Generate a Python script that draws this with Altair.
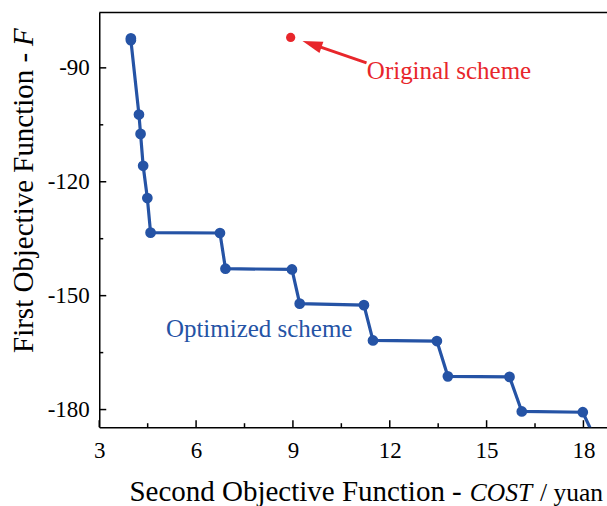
import altair as alt
import pandas as pd

# ---- data ----
cost = [3.98, 3.98, 4.23, 4.28, 4.36, 4.49, 4.59, 6.74, 6.91, 8.97, 9.21,
        11.20, 11.48, 13.46, 13.80, 15.71, 16.09, 17.98, 18.49]
f_val = [-82.2, -82.7, -102.3, -107.4, -115.8, -124.3, -133.4, -133.5, -142.9,
         -143.1, -152.1, -152.5, -161.8, -161.95, -171.25, -171.4, -180.5,
         -180.7, -190.0]
orig_cost = [8.93]
orig_f = [-82.0]

x_major = [3, 6, 9, 12, 15, 18]
x_minor = [4.5, 7.5, 10.5, 13.5, 16.5]
y_major = [-90, -120, -150, -180]
y_minor = [-105, -135, -165]

# annotation anchors (data coords)
opt_label = ["Optimized scheme"]
opt_lx = [5.065]
opt_ly = [-160.8]
orig_label = ["Original scheme"]
orig_lx = [11.29]
orig_ly = [-93.0]
arrow_tail_x = [11.28]
arrow_tail_y = [-88.7]
arrow_head_x = [9.59]
arrow_head_y = [-83.77]

BLUE = "#2553a5"
RED = "#e8262b"
FONT = "Liberation Serif"

W, H = 508, 415
xs = alt.Scale(domain=[3, 18.73], nice=False, zero=False)
ys = alt.Scale(domain=[-184.65, -75.4], nice=False, zero=False)

df = pd.DataFrame({"cost": cost, "F": f_val, "i": list(range(len(cost)))})
df_orig = pd.DataFrame({"cost": orig_cost, "F": orig_f})

x_axis = alt.Axis(values=x_major, labelPadding=12, title=None,
                  labelExpr="'' + datum.value")
y_axis = alt.Axis(values=y_major, labelPadding=10, title=None,
                  labelExpr="'' + datum.value")


def X(f, **kw):
    return alt.X(f, scale=xs, title=None, **kw)


def Y(f, **kw):
    return alt.Y(f, scale=ys, title=None, **kw)


line = alt.Chart(df).mark_line(color=BLUE, strokeWidth=3.2, clip=True).encode(
    x=X("cost:Q", axis=x_axis),
    y=Y("F:Q", axis=y_axis),
    order="i:Q",
)
pts = alt.Chart(df).mark_circle(color=BLUE, size=115, opacity=1, clip=True).encode(
    x=X("cost:Q"), y=Y("F:Q"))
orig = alt.Chart(df_orig).mark_circle(color=RED, size=85, opacity=1).encode(
    x=X("cost:Q"), y=Y("F:Q"))

# inward ticks
xt_major = alt.Chart(pd.DataFrame({"v": x_major})).mark_rule(color="black", strokeWidth=1.5).encode(
    x=X("v:Q"), y=alt.value(H), y2=alt.value(H - 7))
xt_minor = alt.Chart(pd.DataFrame({"v": x_minor})).mark_rule(color="black", strokeWidth=1.5).encode(
    x=X("v:Q"), y=alt.value(H), y2=alt.value(H - 4))
yt_major = alt.Chart(pd.DataFrame({"v": y_major})).mark_rule(color="black", strokeWidth=1.5).encode(
    y=Y("v:Q"), x=alt.value(0), x2=alt.value(7))
yt_minor = alt.Chart(pd.DataFrame({"v": y_minor})).mark_rule(color="black", strokeWidth=1.5).encode(
    y=Y("v:Q"), x=alt.value(0), x2=alt.value(4))
top_frame = alt.Chart(pd.DataFrame({"a": [0]})).mark_rule(color="black", strokeWidth=1.5).encode(
    x=alt.value(0), x2=alt.value(W + 2), y=alt.value(0))

# annotations
opt_txt = alt.Chart(pd.DataFrame({"t": opt_label, "x": opt_lx, "y": opt_ly})).mark_text(
    font=FONT, fontSize=25, color=BLUE, align="left", baseline="alphabetic").encode(
    x=X("x:Q"), y=Y("y:Q"), text="t:N")
orig_txt = alt.Chart(pd.DataFrame({"t": orig_label, "x": orig_lx, "y": orig_ly})).mark_text(
    font=FONT, fontSize=25, color=RED, align="left", baseline="alphabetic").encode(
    x=X("x:Q"), y=Y("y:Q"), text="t:N")
arrow_line = alt.Chart(pd.DataFrame({"x": arrow_tail_x, "y": arrow_tail_y,
                                     "x2": arrow_head_x, "y2": arrow_head_y})).mark_rule(
    color=RED, strokeWidth=3).encode(
    x=X("x:Q"), y=Y("y:Q"), x2="x2:Q", y2="y2:Q")
arrow_head = alt.Chart(pd.DataFrame({"x": arrow_head_x, "y": arrow_head_y})).mark_point(
    shape="M0,-1L0.6,1L-0.6,1Z", filled=True, color=RED, opacity=1, size=400, angle=289).encode(
    x=X("x:Q"), y=Y("y:Q"))


# axis titles (with italic parts)
def txt(s, x, y, size=29, **kw):
    return alt.Chart(pd.DataFrame({"t": [s]})).mark_text(
        font=FONT, fontSize=size, color="black", baseline="alphabetic", **kw).encode(
        x=alt.value(x), y=alt.value(y), text="t:N")


xt1 = txt("Second Objective Function -", 362.7, 489, align="right")
xt2 = txt("COST", 370.7, 489, size=25.5, align="left", fontStyle="italic")
xt3 = txt("/ yuan", 441, 489, size=25.5, align="left")
yt1 = txt("First Objective Function -", -66.3, 340.7, align="left", angle=270)
yt2 = txt("F", -66.3, 33.7, align="left", angle=270, fontStyle="italic")

chart = alt.layer(
    line, pts, orig, xt_major, xt_minor, yt_major, yt_minor, top_frame,
    opt_txt, orig_txt, arrow_line, arrow_head, xt1, xt2, xt3, yt1, yt2,
).properties(
    width=W, height=H, autosize=alt.AutoSizeParams(type="none"),
    padding={"left": 99.3, "top": 12.3, "right": 0, "bottom": 78.7},
    background="white",
).configure_view(stroke=None).configure_axis(
    ticks=False, tickSize=0, grid=False, domainColor="black", domainWidth=1.5,
    labelFont=FONT, labelFontSize=23, labelColor="black", labelFlush=False,
)

chart.save("out.html", embed_options={"renderer": "svg", "actions": False})
